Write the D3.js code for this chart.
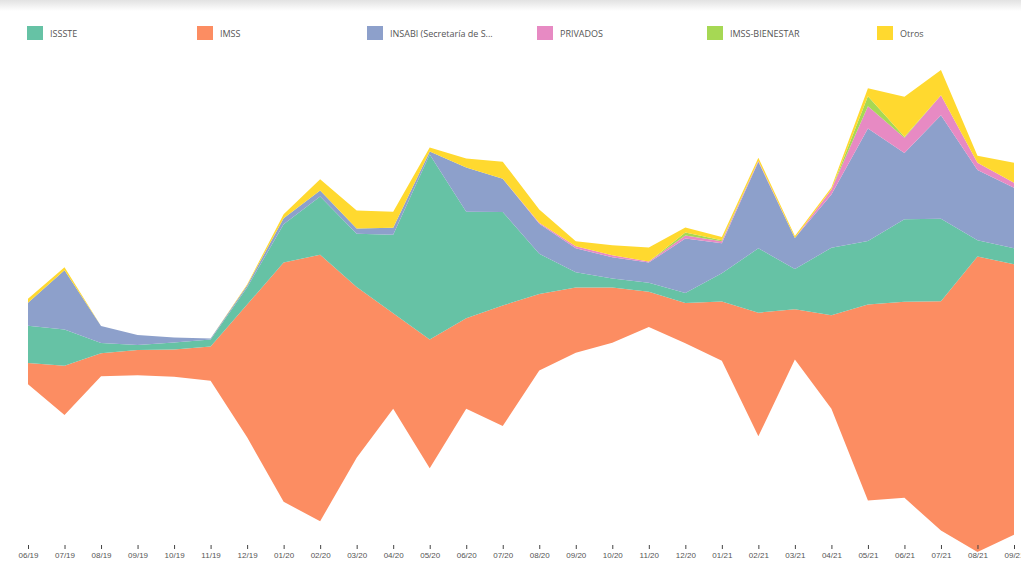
<!DOCTYPE html>
<html><head><meta charset="utf-8">
<script src="https://cdn.jsdelivr.net/npm/d3@7"></script>
<style>body{margin:0;background:#fff;}svg{display:block;font-family:"Open Sans",sans-serif}</style>
</head><body><svg id="c" width="1021" height="574"></svg>
<script>
const months = ["06/19","07/19","08/19","09/19","10/19","11/19","12/19","01/20","02/20","03/20","04/20","05/20","06/20","07/20","08/20","09/20","10/20","11/20","12/20","01/21","02/21","03/21","04/21","05/21","06/21","07/21","08/21","09/21"];
const IMSS      = [21,49,23,25,27,34,132,238,265,170,95,128,90,120,76,65,55,35,40,59,123,50,93,195,195,228,294,269];
const ISSSTE    = [37,36,10,5,7,7,17,38,58,53,78,184,106,93,40,15,9,9,10,28,64,40,67,63,82,82,16,16];
const INSABI    = [23,59,17,10,5,1,2,6,6,5,7,3,44,33,30,24,21,20,54,30,86,31,53,112,66,103,70,60];
const PRIVADOS  = [0,0,0,0,0,0,0,0,0,0,0,0,0,0,1,2,2,1,3,2,1,0,5,22,15,20,7,5];
const BIENESTAR = [0,0,0,0,0,0,0,0,0,0,0,0,0,0,0,0,0,0,3,1,0,0,0,10,1,0,0,0];
const OTROS     = [4,3,0,0,0,0,1,4,11,18,16,4,9,17,13,5,10,14,5,3,3,2,2,8,40,25,7,20];

const legendKeys   = ["ISSSTE","IMSS","INSABI","PRIVADOS","IMSS-BIENESTAR","Otros"];
const legendLabels = ["ISSSTE","IMSS","INSABI (Secretaría de S...","PRIVADOS","IMSS-BIENESTAR","Otros"];
const stackKeys    = ["IMSS","ISSSTE","INSABI","PRIVADOS","IMSS-BIENESTAR","Otros"];
const seriesMap = {"IMSS":IMSS,"ISSSTE":ISSSTE,"INSABI":INSABI,"PRIVADOS":PRIVADOS,"IMSS-BIENESTAR":BIENESTAR,"Otros":OTROS};

const rows = months.map((m,i)=>{const r={month:m}; stackKeys.forEach(k=>r[k]=seriesMap[k][i]); return r;});
const color = d3.scaleOrdinal().domain(legendKeys).range(d3.schemeSet2);

const svg = d3.select("#c");
const grad = svg.append("defs").append("linearGradient").attr("id","topg").attr("x1",0).attr("x2",0).attr("y1",0).attr("y2",1);
grad.append("stop").attr("offset","0%").attr("stop-color","#e2e2e2");
grad.append("stop").attr("offset","100%").attr("stop-color","#ffffff");
svg.append("rect").attr("x",0).attr("y",0).attr("width",1021).attr("height",11).attr("fill","url(#topg)");

const stack = d3.stack().keys(stackKeys).order(d3.stackOrderNone).offset(d3.stackOffsetWiggle);
const series = stack(rows);

const x = d3.scalePoint().domain(months).range([28,1014]);
const y = d3.scaleLinear()
  .domain([d3.min(series, s=>d3.min(s,d=>d[0])), d3.max(series, s=>d3.max(s,d=>d[1]))])
  .range([552,70]);

const area = d3.area().x(d=>x(d.data.month)).y0(d=>y(d[0])).y1(d=>y(d[1])).curve(d3.curveLinear);

svg.append("g").selectAll("path").data(series).join("path")
  .attr("fill", d=>color(d.key)).attr("d", area);

const ax = svg.append("g").attr("transform","translate(0,545)")
  .call(d3.axisBottom(x).tickSize(4).tickPadding(3));
ax.select(".domain").remove();
ax.selectAll(".tick line").attr("stroke","#444");
ax.selectAll(".tick text").attr("fill","#555").style("font-size","8px");

const lg = svg.append("g").selectAll("g").data(legendKeys).join("g")
  .attr("transform",(d,i)=>`translate(${27+i*170},26)`);
lg.append("rect").attr("width",16).attr("height",14).attr("fill",d=>color(d));
lg.append("text").attr("x",23).attr("y",11).attr("fill","#555").style("font-size","9px")
  .text((d,i)=>legendLabels[i]);
</script></body></html>
